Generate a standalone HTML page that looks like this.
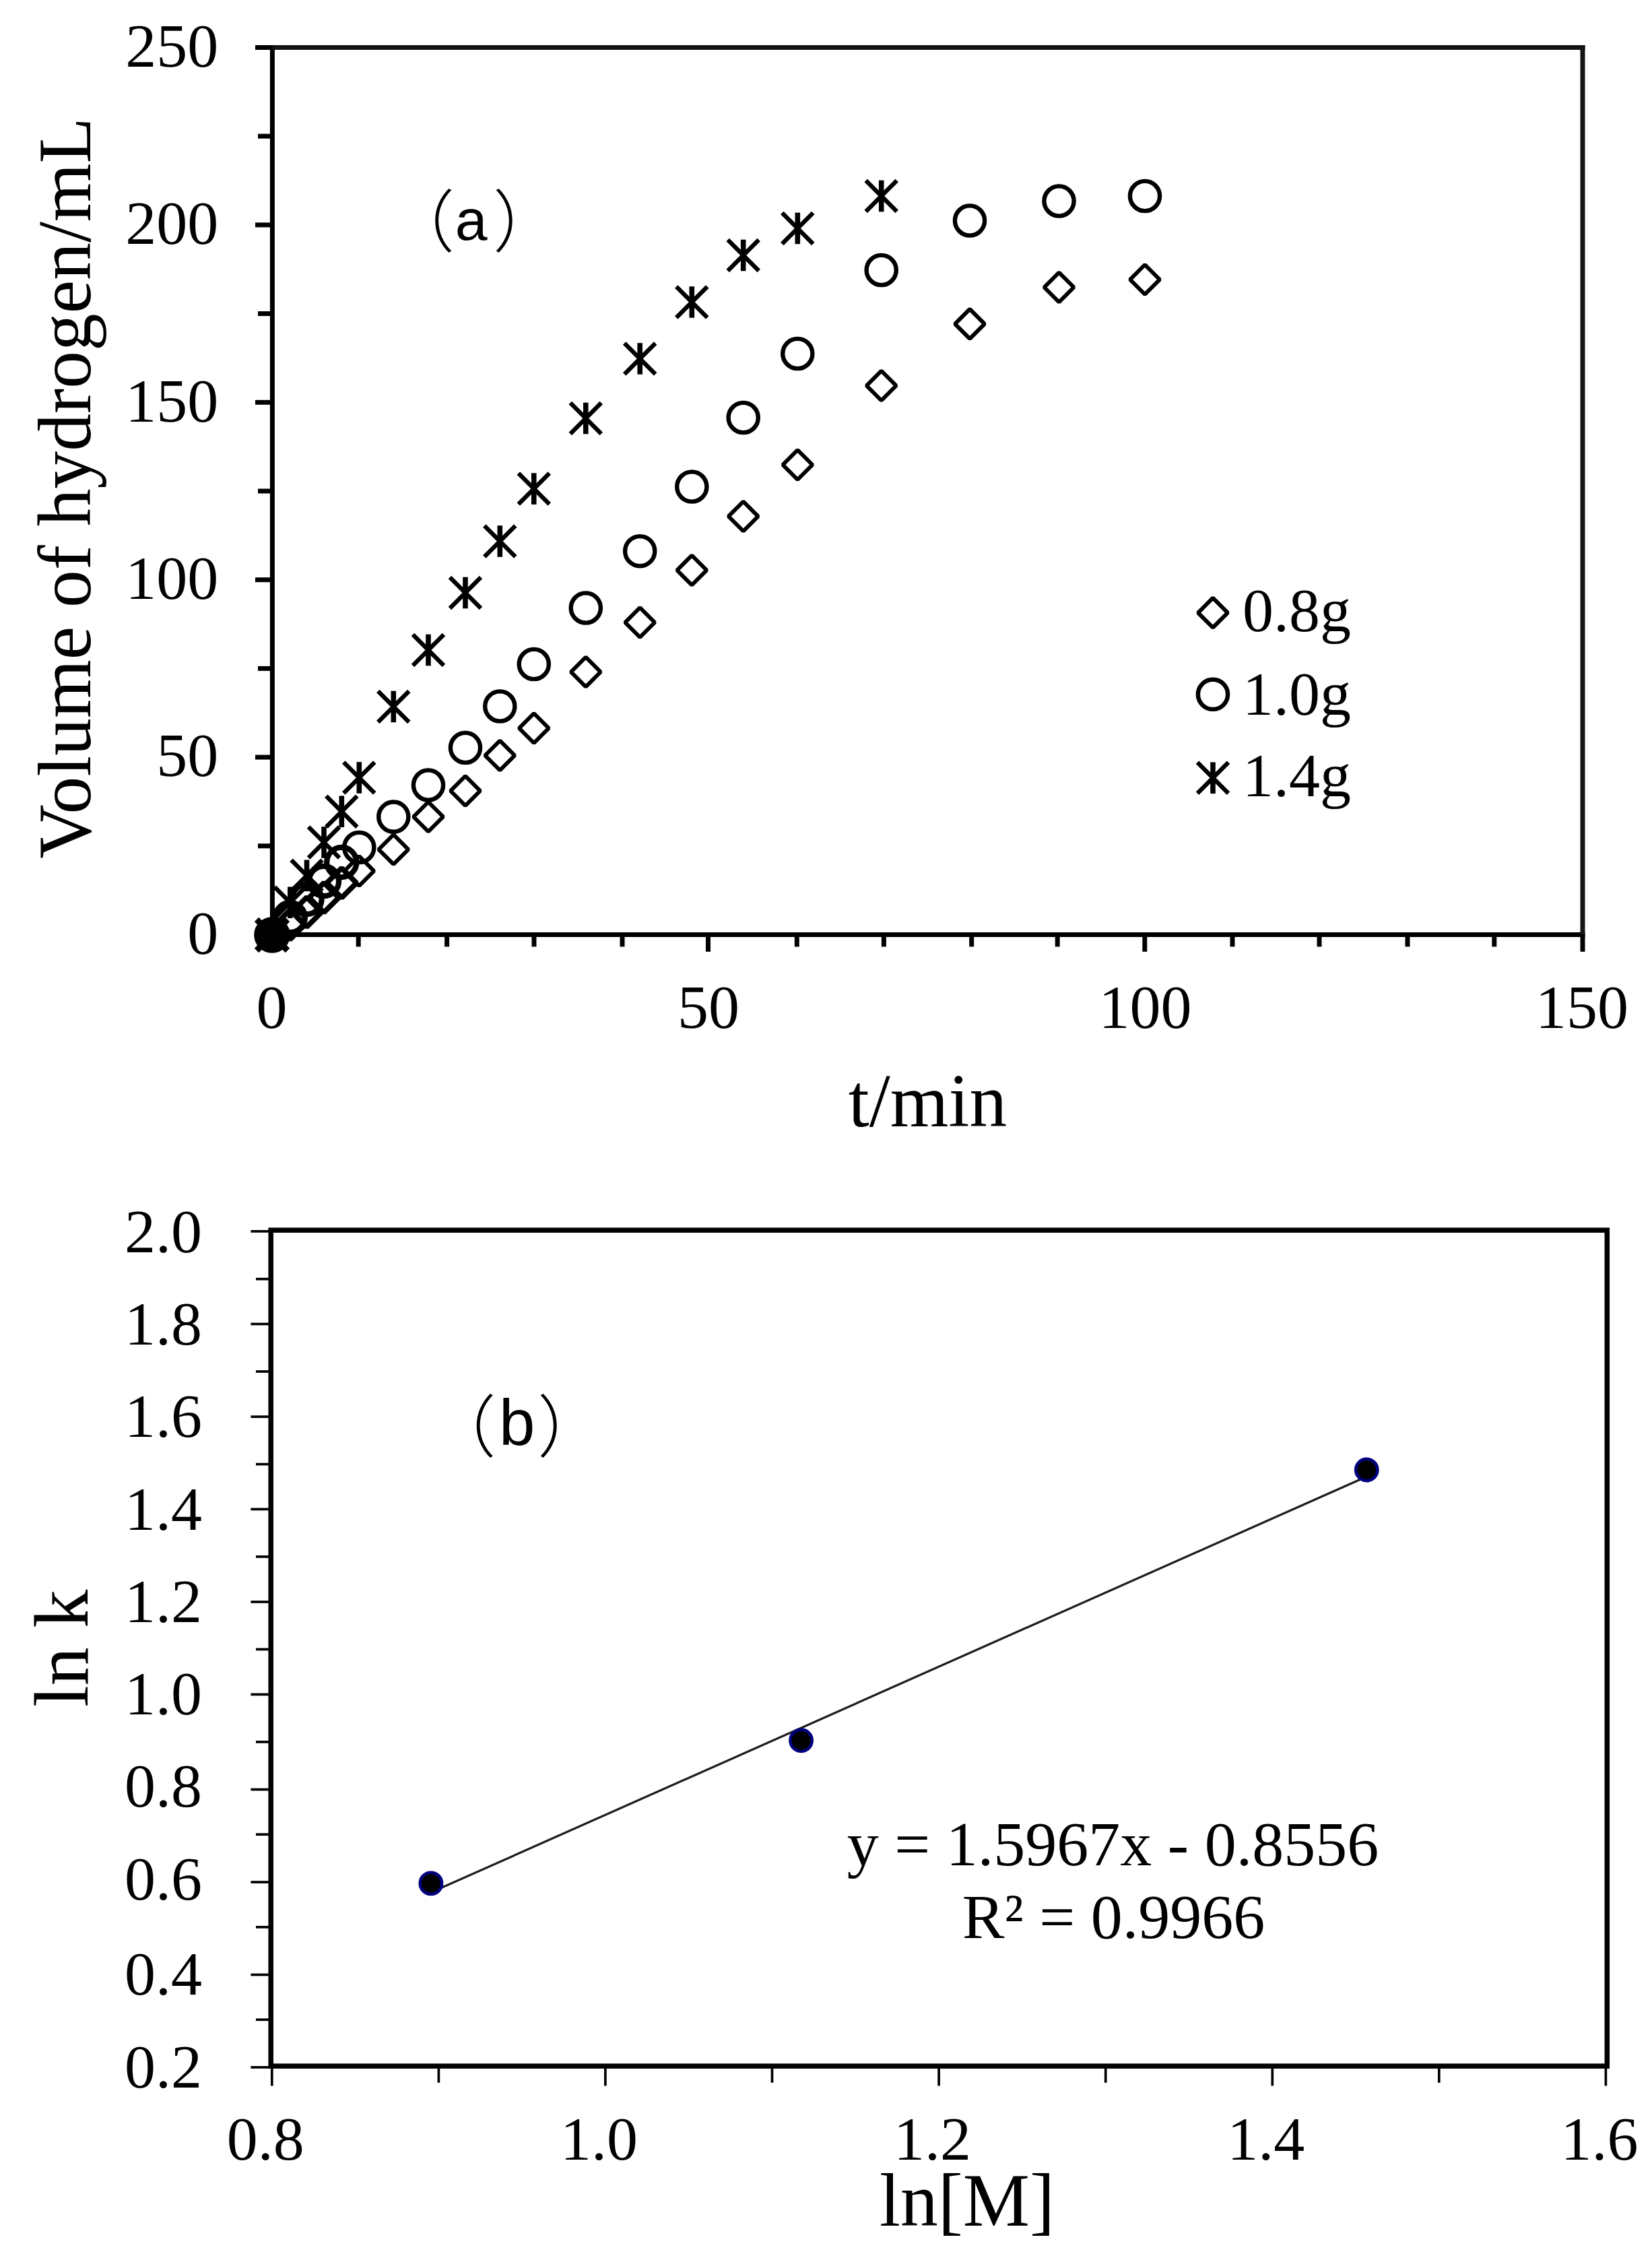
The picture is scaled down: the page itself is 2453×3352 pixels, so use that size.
<!DOCTYPE html>
<html lang="en"><head><meta charset="utf-8"><title>Hydrogen generation kinetics</title>
<style>html,body{margin:0;padding:0;background:#fff}body{width:2453px;height:3352px;overflow:hidden}svg{display:block}text{fill:#000}</style>
</head><body>
<svg width="2453" height="3352" viewBox="0 0 2453 3352">
<rect x="0" y="0" width="2453" height="3352" fill="#fff"/>
<defs>
<g id="mS"><path d="M-23 -23 L23 23 M23 -23 L-23 23" stroke="#000" stroke-width="6.4" fill="none"/><path d="M0 -23.3 L0 23.3" stroke="#000" stroke-width="7.6" fill="none"/></g>
<circle id="mC" cx="0" cy="0" r="22.1" stroke="#000" stroke-width="6.4" fill="none"/>
<path id="mD" d="M0 -22 L22 0 L0 22 L-22 0 Z" stroke="#000" stroke-width="6.0" fill="none" stroke-linejoin="bevel"/>
<g id="mSb"><path d="M-23 -23 L23 23 M23 -23 L-23 23" stroke="#000" stroke-width="6.4" fill="none"/><path d="M0 -23.3 L0 23.3" stroke="#000" stroke-width="7.6" fill="none"/></g>
<circle id="mCb" cx="0" cy="0" r="22.1" stroke="#000" stroke-width="8.2" fill="none"/>
<path id="mDb" d="M0 -22 L22 0 L0 22 L-22 0 Z" stroke="#000" stroke-width="7.8" fill="none" stroke-linejoin="bevel"/>
<g id="mSc"><path d="M-23 -23 L23 23 M23 -23 L-23 23" stroke="#000" stroke-width="9.0" fill="none"/><path d="M0 -23.3 L0 23.3" stroke="#000" stroke-width="10.0" fill="none"/></g>
<circle id="mCc" cx="0" cy="0" r="22.1" stroke="#000" stroke-width="9.4" fill="none"/>
<path id="mDc" d="M0 -22 L22 0 L0 22 L-22 0 Z" stroke="#000" stroke-width="9.0" fill="none" stroke-linejoin="bevel"/>
</defs>
<g id="plotA">
<g stroke="#000" stroke-width="7.0" fill="none" stroke-linecap="butt">
<path d="M404.4 67.0 V1391.0"/>
<path d="M400.9 1387.5 H2353.5"/>
<path d="M404.4 70.5 H2353.5" stroke="#151515"/>
<path d="M2350.0 67.0 V1387.5" stroke="#151515"/>
<path d="M379.0 1387.5 H404.4"/>
<path d="M383.0 1255.8 H404.4"/>
<path d="M379.0 1124.1 H404.4"/>
<path d="M383.0 992.4 H404.4"/>
<path d="M379.0 860.7 H404.4"/>
<path d="M383.0 729.0 H404.4"/>
<path d="M379.0 597.3 H404.4"/>
<path d="M383.0 465.6 H404.4"/>
<path d="M379.0 333.9 H404.4"/>
<path d="M383.0 202.2 H404.4"/>
<path d="M379.0 70.5 H404.4"/>
<path d="M404.4 1387.5 V1412.8"/>
<path d="M532.2 1387.5 V1405.4"/>
<path d="M663.6 1387.5 V1405.4"/>
<path d="M793.0 1387.5 V1405.4"/>
<path d="M924.0 1387.5 V1405.4"/>
<path d="M1051.5 1387.5 V1412.8"/>
<path d="M1183.3 1387.5 V1405.4"/>
<path d="M1312.4 1387.5 V1405.4"/>
<path d="M1442.7 1387.5 V1405.4"/>
<path d="M1570.2 1387.5 V1405.4"/>
<path d="M1699.8 1387.5 V1412.8"/>
<path d="M1830.0 1387.5 V1405.4"/>
<path d="M1959.0 1387.5 V1405.4"/>
<path d="M2090.0 1387.5 V1405.4"/>
<path d="M2218.8 1387.5 V1405.4"/>
<path d="M2350.0 1387.5 V1412.8"/>
</g>
<g font-family="Liberation Serif, serif" font-size="92" text-anchor="end">
<text x="324.3" y="1415.8">0</text>
<text x="324.3" y="1152.4">50</text>
<text x="324.3" y="889.0">100</text>
<text x="324.3" y="625.6">150</text>
<text x="324.3" y="362.2">200</text>
<text x="324.3" y="98.8">250</text>
</g>
<g font-family="Liberation Serif, serif" font-size="92" text-anchor="middle">
<text x="403.4" y="1525.5">0</text>
<text x="1051.9" y="1525.5">50</text>
<text x="1700.5" y="1525.5">100</text>
<text x="2349.0" y="1525.5">150</text>
</g>
<text font-family="Liberation Serif, serif" font-size="111.5" text-anchor="middle" x="1377.5" y="1672.3">t/min</text>
<text font-family="Liberation Serif, serif" font-size="111.5" text-anchor="middle" transform="translate(133.7,724.5) rotate(-90)">Volume of hydrogen/mL</text>
<text font-family="Liberation Sans, Noto Sans CJK SC, sans-serif" font-size="100.5" y="365"><tspan x="574.4" font-weight="300">（</tspan><tspan x="675.7" y="356.2" font-size="86">a</tspan><tspan x="732" y="365" font-size="100.5" font-weight="300">）</tspan></text>
<g id="sD">
<use href="#mDc" x="404.0" y="1388.0"/>
<use href="#mDb" x="430.8" y="1372.5"/>
<use href="#mDb" x="455.5" y="1354.0"/>
<use href="#mDb" x="481.0" y="1332.5"/>
<use href="#mDb" x="507.3" y="1310.7"/>
<use href="#mD" x="533.3" y="1293.0"/>
<use href="#mD" x="584.3" y="1261.0"/>
<use href="#mD" x="636.0" y="1212.5"/>
<use href="#mD" x="691.0" y="1174.0"/>
<use href="#mD" x="742.3" y="1121.5"/>
<use href="#mD" x="792.8" y="1081.0"/>
<use href="#mD" x="869.8" y="997.5"/>
<use href="#mD" x="950.2" y="924.0"/>
<use href="#mD" x="1027.3" y="846.5"/>
<use href="#mD" x="1103.7" y="766.5"/>
<use href="#mD" x="1184.3" y="690.0"/>
<use href="#mD" x="1308.7" y="572.5"/>
<use href="#mD" x="1440.0" y="480.8"/>
<use href="#mD" x="1572.5" y="426.5"/>
<use href="#mD" x="1700.0" y="415.0"/>
</g><g id="sC">
<use href="#mCc" x="404.0" y="1388.0"/>
<use href="#mCb" x="430.8" y="1362.0"/>
<use href="#mCb" x="455.5" y="1335.0"/>
<use href="#mCb" x="481.0" y="1308.0"/>
<use href="#mCb" x="507.3" y="1280.0"/>
<use href="#mC" x="533.3" y="1258.0"/>
<use href="#mC" x="584.3" y="1212.6"/>
<use href="#mC" x="636.0" y="1165.5"/>
<use href="#mC" x="691.0" y="1110.0"/>
<use href="#mC" x="742.3" y="1048.5"/>
<use href="#mC" x="792.8" y="986.0"/>
<use href="#mC" x="869.8" y="902.5"/>
<use href="#mC" x="950.2" y="818.2"/>
<use href="#mC" x="1027.3" y="722.5"/>
<use href="#mC" x="1103.7" y="620.0"/>
<use href="#mC" x="1184.3" y="525.0"/>
<use href="#mC" x="1308.7" y="401.0"/>
<use href="#mC" x="1440.0" y="327.5"/>
<use href="#mC" x="1572.5" y="298.5"/>
<use href="#mC" x="1700.0" y="291.0"/>
<circle cx="404" cy="1388" r="21" fill="#000"/><path d="M404 1362 L430 1388 L404 1414 L378 1388 Z" fill="#000"/>
</g><g id="sS">
<use href="#mSc" x="404.0" y="1388.0"/>
<use href="#mS" x="430.8" y="1339.8"/>
<use href="#mS" x="455.5" y="1299.8"/>
<use href="#mS" x="481.0" y="1250.5"/>
<use href="#mS" x="507.3" y="1204.7"/>
<use href="#mS" x="533.3" y="1154.5"/>
<use href="#mS" x="584.3" y="1049.0"/>
<use href="#mS" x="636.0" y="965.0"/>
<use href="#mS" x="691.0" y="880.0"/>
<use href="#mS" x="742.3" y="803.5"/>
<use href="#mS" x="792.8" y="725.6"/>
<use href="#mS" x="869.8" y="621.0"/>
<use href="#mS" x="950.2" y="532.5"/>
<use href="#mS" x="1027.3" y="448.5"/>
<use href="#mS" x="1103.7" y="379.0"/>
<use href="#mS" x="1184.3" y="339.0"/>
<use href="#mS" x="1308.7" y="291.0"/>
</g>
<use href="#mD" x="1801" y="909.7"/><use href="#mC" x="1801" y="1030.8"/><use href="#mS" x="1801" y="1154.8"/>
<g font-family="Liberation Serif, serif" font-size="92">
<text x="1845" y="936.5">0.8g</text><text x="1845" y="1060.8">1.0g</text><text x="1845" y="1182">1.4g</text>
</g>
</g>
<g id="plotB">
<path d="M639.9 2809.3 L2029.3 2192.0" stroke="#1c1c1c" stroke-width="3.2" fill="none"/>
<rect x="402.2" y="1826.2" width="1984.1" height="1240.9" fill="none" stroke="#000" stroke-width="7.5"/>
<g stroke="#000" stroke-width="3.7" fill="none">
<path d="M372.4 3068.9 H402.2"/>
<path d="M380.0 2998.2 H402.2"/>
<path d="M372.4 2931.5 H402.2"/>
<path d="M380.0 2860.8 H402.2"/>
<path d="M372.4 2794.0 H402.2"/>
<path d="M380.0 2723.2 H402.2"/>
<path d="M372.4 2656.5 H402.2"/>
<path d="M380.0 2585.9 H402.2"/>
<path d="M372.4 2515.4 H402.2"/>
<path d="M380.0 2448.4 H402.2"/>
<path d="M372.4 2378.0 H402.2"/>
<path d="M380.0 2310.9 H402.2"/>
<path d="M372.4 2240.4 H402.2"/>
<path d="M380.0 2173.6 H402.2"/>
<path d="M372.4 2103.1 H402.2"/>
<path d="M380.0 2036.0 H402.2"/>
<path d="M372.4 1965.5 H402.2"/>
<path d="M380.0 1898.7 H402.2"/>
<path d="M372.4 1827.9 H402.2"/>
<path d="M403.8 3067.1 V3096.4"/>
<path d="M651.4 3067.1 V3091.8"/>
<path d="M898.9 3067.1 V3096.4"/>
<path d="M1146.5 3067.1 V3091.8"/>
<path d="M1394.1 3067.1 V3096.4"/>
<path d="M1641.7 3067.1 V3091.8"/>
<path d="M1889.3 3067.1 V3096.4"/>
<path d="M2136.8 3067.1 V3091.8"/>
<path d="M2384.4 3067.1 V3096.4"/>
</g>
<g font-family="Liberation Serif, serif" font-size="92" text-anchor="end">
<text x="300" y="3098.5">0.2</text>
<text x="300" y="2961.0">0.4</text>
<text x="300" y="2819.8">0.6</text>
<text x="300" y="2682.3">0.8</text>
<text x="300" y="2545.2">1.0</text>
<text x="300" y="2408.0">1.2</text>
<text x="300" y="2270.5">1.4</text>
<text x="300" y="2133.3">1.6</text>
<text x="300" y="1995.9">1.8</text>
<text x="300" y="1858.5">2.0</text>
</g>
<g font-family="Liberation Serif, serif" font-size="92" text-anchor="middle">
<text x="394.3" y="3206.3">0.8</text>
<text x="889.4" y="3206.3">1.0</text>
<text x="1384.6" y="3206.3">1.2</text>
<text x="1879.8" y="3206.3">1.4</text>
<text x="2374.9" y="3206.3">1.6</text>
</g>
<text font-family="Liberation Serif, serif" font-size="111.5" text-anchor="middle" x="1436" y="3304.3">ln[M]</text>
<text font-family="Liberation Serif, serif" font-size="114" text-anchor="middle" transform="translate(130.4,2446.9) rotate(-90)">ln k</text>
<text font-family="Liberation Sans, Noto Sans CJK SC, sans-serif" font-size="100.5" y="2154.4"><tspan x="636" font-weight="300">（</tspan><tspan x="741" y="2145.3" font-size="96">b</tspan><tspan x="798" y="2154.4" font-size="100.5" font-weight="300">）</tspan></text>
<circle cx="639.9" cy="2795.9" r="16.2" fill="#000" stroke="#000080" stroke-width="4.5"/>
<circle cx="1189.6" cy="2583.8" r="16.2" fill="#000" stroke="#000080" stroke-width="4.5"/>
<circle cx="2029.3" cy="2182.0" r="16.2" fill="#000" stroke="#000080" stroke-width="4.5"/>
<g font-family="Liberation Serif, serif" font-size="94" text-anchor="middle">
<text x="1652.5" y="2769">y = 1.5967x - 0.8556</text>
<text x="1653.5" y="2877.3">R² = 0.9966</text>
</g>
</g>
</svg>
</body></html>
